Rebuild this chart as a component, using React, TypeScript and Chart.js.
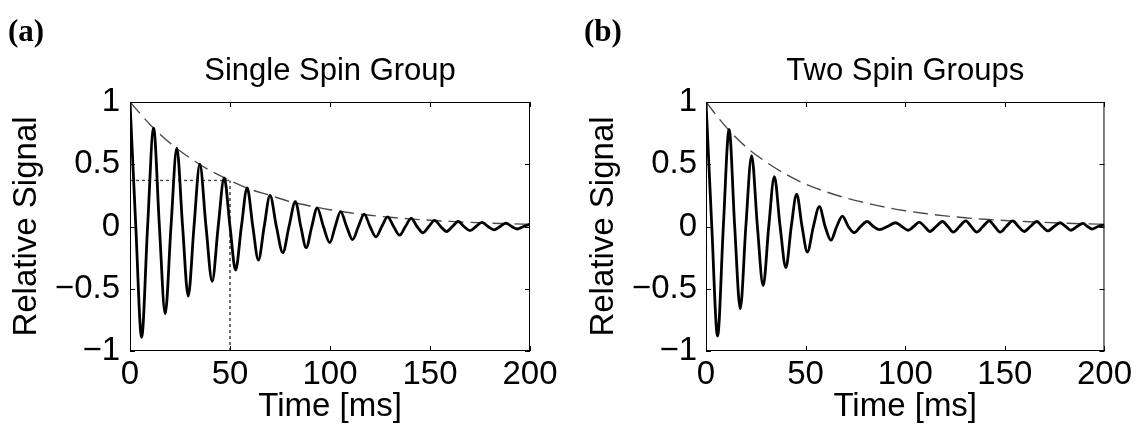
import React, { useEffect, useRef } from 'react';
import { Chart, registerables } from 'chart.js';

Chart.register(...registerables);

// ---------- data ----------
const xTicks = [0, 50, 100, 150, 200];
const yTicks = [-1, -0.5, 0, 0.5, 1];

// Panel (a): single spin group
const timeA = [
  0, 2.9, 5.8, 8.8, 11.8, 14.7, 17.6, 20.5, 23.4, 26.3, 29.1, 32.0, 34.9, 38.0, 41.1, 44.1,
  47.1, 50.0, 52.8, 55.7, 58.6, 61.4, 64.2, 67.1, 70.0, 73.2, 76.4, 79.5, 82.7, 85.4, 88.1,
  90.9, 93.6, 96.7, 99.9, 102.6, 105.3, 108.3, 111.3, 114.2, 117.1, 120.0, 123.0, 125.9,
  128.8, 131.8, 134.8, 137.7, 140.6, 143.5, 146.5, 149.4, 152.3, 155.3, 158.3, 161.2, 164.1,
  167.0, 170.0, 173.0, 176.0, 179.0, 182.0, 185.0, 188.0, 190.8, 193.5, 196.8, 200,
];
const signalA = [
  1, 0, -0.89, 0, 0.79, 0, -0.7, 0, 0.63, 0, -0.56, 0, 0.5, 0, -0.44, 0,
  0.39, 0, -0.35, 0, 0.31, 0, -0.27, 0, 0.25, 0, -0.21, 0, 0.2, 0, -0.17,
  0, 0.15, 0, -0.13, 0, 0.12, 0, -0.105, 0, 0.1, 0, -0.083, 0,
  0.078, 0, -0.07, 0, 0.065, 0, -0.05, 0, 0.05, 0, -0.04, 0, 0.04,
  0, -0.033, 0, 0.033, 0, -0.027, 0, 0.027, 0, -0.02, 0, 0.018,
];
const envTime = [0, 10, 20, 30, 40, 50, 60, 70, 80, 90, 100, 110, 120, 130, 140, 150, 160, 170, 180, 190, 200];
const envA = [1, 0.82, 0.67, 0.55, 0.45, 0.37, 0.3, 0.25, 0.2, 0.165, 0.135, 0.11, 0.09, 0.074, 0.061, 0.05, 0.041, 0.033, 0.027, 0.022, 0.018];
const markerTime = 50;
const markerLevel = 0.37;

// Panel (b): two spin groups
const timeB = [
  0, 2.9, 5.8, 8.7, 11.6, 14.4, 17.2, 20.0, 22.9, 25.8, 28.7, 31.5, 34.3, 37.2, 40.1, 42.8,
  45.5, 48.2, 50.9, 53.9, 56.9, 59.8, 62.7, 65.6, 68.5, 71.4, 74.4, 77.6, 80.8, 84.0, 87.1,
  91.0, 95.2, 98.3, 101.5, 104.2, 107.0, 109.7, 112.4, 115.5, 118.7, 121.4, 124.1, 127.2,
  130.4, 133.1, 135.9, 139.0, 142.2, 144.9, 147.6, 150.7, 153.9, 156.8, 159.7, 162.8, 166.0,
  168.8, 171.6, 174.7, 177.8, 180.5, 183.2, 186.2, 189.2, 191.5, 193.7, 196.8, 200,
];
const signalB = [
  1, 0, -0.88, 0, 0.78, 0, -0.66, 0, 0.57, 0, -0.475, 0, 0.4, 0, -0.33, 0,
  0.26, 0, -0.205, 0, 0.16, 0, -0.11, 0, 0.083, 0, -0.05, 0, 0.04, 0, -0.025,
  0, 0.03, 0, -0.03, 0, 0.035, 0, -0.04, 0, 0.04, 0, -0.045, 0,
  0.045, 0, -0.045, 0, 0.045, 0, -0.045, 0, 0.045, 0, -0.04, 0, 0.04,
  0, -0.035, 0, 0.03, 0, -0.03, 0, 0.025, 0, -0.02, 0, 0.012,
];
const envB = [1, 0.8, 0.64, 0.52, 0.42, 0.34, 0.28, 0.23, 0.19, 0.155, 0.127, 0.104, 0.085, 0.07, 0.058, 0.048, 0.04, 0.033, 0.027, 0.022, 0.018];

const FONT = '"Liberation Sans", Arial, Helvetica, sans-serif';
const SERIF = '"Liberation Serif", "Times New Roman", serif';

const pts = (xs: number[], ys: number[]) => xs.map((x, i) => ({ x, y: ys[i] }));
const fmt = (v: number) => (v < 0 ? '\u2212' + String(-v) : String(v));

const framePlugin = {
  id: 'frame',
  afterDraw(chart: any, _args: any, opts: any) {
    const { ctx, chartArea, scales } = chart;
    const { left, right, top, bottom } = chartArea;
    const x = scales.x;
    const y = scales.y;
    ctx.save();
    ctx.strokeStyle = '#000';
    ctx.lineWidth = 1;
    ctx.strokeRect(left + 0.5, top + 0.5, right - left - 1, bottom - top - 1);
    const tl = 5;
    ctx.beginPath();
    for (const v of xTicks) {
      const px = Math.round(x.getPixelForValue(v)) + 0.5;
      ctx.moveTo(px, bottom);
      ctx.lineTo(px, bottom - tl);
      ctx.moveTo(px, top);
      ctx.lineTo(px, top + tl);
    }
    for (const v of yTicks) {
      const py = Math.round(y.getPixelForValue(v)) + 0.5;
      ctx.moveTo(left, py);
      ctx.lineTo(left + tl, py);
      ctx.moveTo(right, py);
      ctx.lineTo(right - tl, py);
    }
    ctx.stroke();

    ctx.fillStyle = '#000';
    ctx.textAlign = 'center';
    ctx.textBaseline = 'alphabetic';
    ctx.font = '31px ' + FONT;
    ctx.fillText(opts.title, (left + right) / 2, 80);
    ctx.font = '33px ' + FONT;
    ctx.fillText('Time [ms]', (left + right) / 2, 416);
    ctx.save();
    ctx.translate(opts.ylabelX, (top + bottom) / 2);
    ctx.rotate(-Math.PI / 2);
    ctx.textBaseline = 'middle';
    ctx.fillText('Relative Signal', 0, 0);
    ctx.restore();
    ctx.font = 'bold 31px ' + SERIF;
    ctx.textAlign = 'left';
    ctx.fillText(opts.tag, opts.tagX, 41);
    ctx.restore();
  },
};

function buildConfig(panel: 'a' | 'b'): any {
  const isA = panel === 'a';
  const datasets: any[] = [];
  datasets.push({
    label: 'signal',
    data: isA ? pts(timeA, signalA) : pts(timeB, signalB),
    borderColor: '#000',
    borderWidth: 2.8,
    pointRadius: 0,
    cubicInterpolationMode: 'monotone',
    order: 0,
  });
  datasets.push({
    label: 'envelope',
    data: pts(envTime, isA ? envA : envB),
    borderColor: '#4a4a4a',
    borderWidth: 1.4,
    borderDash: [15, 7],
    pointRadius: 0,
    cubicInterpolationMode: 'monotone',
    order: 1,
  });
  if (isA) {
    datasets.push({
      label: 'T2 level',
      data: [{ x: 0, y: markerLevel }, { x: markerTime, y: markerLevel }],
      borderColor: '#444',
      borderWidth: 1.3,
      borderDash: [3, 3],
      pointRadius: 0,
      order: 2,
    });
    datasets.push({
      label: 'T2 time',
      data: [{ x: markerTime, y: -1 }, { x: markerTime, y: markerLevel }],
      borderColor: '#222',
      borderWidth: 1.3,
      borderDash: [3, 3],
      pointRadius: 0,
      order: 2,
    });
  }
  const yWidth = isA ? 130 : 138;
  const rightPad = isA ? 38 : 31;
  return {
    type: 'line',
    data: { datasets },
    options: {
      animation: false,
      responsive: false,
      devicePixelRatio: 1,
      layout: { padding: { top: 102, right: rightPad, bottom: 0, left: 0 } },
      plugins: {
        legend: { display: false },
        tooltip: { enabled: false },
        title: { display: false },
        frame: {
          title: isA ? 'Single Spin Group' : 'Two Spin Groups',
          tag: isA ? '(a)' : '(b)',
          tagX: isA ? 8 : 16,
          ylabelX: isA ? 27 : 36,
        },
      },
      scales: {
        x: {
          type: 'linear',
          min: 0,
          max: 200,
          afterBuildTicks: (s: any) => {
            s.ticks = xTicks.map((v) => ({ value: v }));
          },
          ticks: {
            color: '#000',
            font: { family: FONT, size: 33 },
            padding: 4,
            maxRotation: 0,
            autoSkip: false,
            callback: (v: number) => fmt(v),
          },
          grid: { display: false, drawTicks: false },
          border: { display: false },
          afterFit: (s: any) => {
            s.height = 76;
          },
        },
        y: {
          type: 'linear',
          min: -1,
          max: 1,
          afterBuildTicks: (s: any) => {
            s.ticks = yTicks.map((v) => ({ value: v }));
          },
          ticks: {
            color: '#000',
            font: { family: FONT, size: 33 },
            padding: isA ? 10 : 9,
            autoSkip: false,
            callback: (v: number) => fmt(v),
          },
          grid: { display: false, drawTicks: false },
          border: { display: false },
          afterFit: (s: any) => {
            s.width = yWidth;
          },
        },
      },
    },
    plugins: [framePlugin],
  };
}

function Panel({ panel, left }: { panel: 'a' | 'b'; left: number }) {
  const ref = useRef<HTMLCanvasElement | null>(null);
  useEffect(() => {
    if (!ref.current) return;
    const chart = new Chart(ref.current, buildConfig(panel));
    return () => chart.destroy();
  }, [panel]);
  return (
    <canvas
      ref={ref}
      width={568}
      height={427}
      style={{ position: 'absolute', left, top: 0, width: 568, height: 427 }}
    />
  );
}

export default function App() {
  return (
    <div style={{ position: 'absolute', left: 0, top: 0, width: 1136, height: 427, background: '#fff' }}>
      <Panel panel="a" left={0} />
      <Panel panel="b" left={568} />
    </div>
  );
}
